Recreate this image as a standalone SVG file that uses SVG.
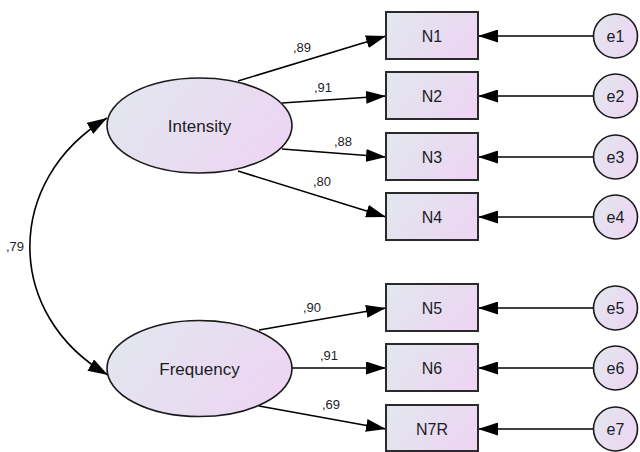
<svg xmlns="http://www.w3.org/2000/svg" width="640" height="452" viewBox="0 0 640 452">
<style>
.node{stroke:#1a1a1a;stroke-width:1.6;fill:url(#g)}
.box{stroke:#2a2a2a;stroke-width:2;fill:url(#g)}
.lbl{font-family:"Liberation Sans",Arial,sans-serif;fill:#1c1c26;text-anchor:middle}
.big{font-size:17px}
.mid{font-size:16px}
.err{font-size:16px}
.w{font-size:13px}
.c{stroke:#000;stroke-width:1.6;fill:none}
.a{marker-end:url(#ah)}
</style>
<defs>
<linearGradient id="g" x1="0" y1="0.3" x2="1" y2="0.7">
<stop offset="0" stop-color="#e2e6ee"/>
<stop offset="1" stop-color="#edd5f3"/>
</linearGradient>
<marker id="ah" markerUnits="userSpaceOnUse" viewBox="0 0 20 13" refX="20" refY="6.5" markerWidth="20" markerHeight="13" orient="auto-start-reverse">
<path d="M0,0 L20,6.5 L0,13 z" fill="#000"/>
</marker>
</defs>
<g id="connectors">
<path class="c a" d="M238,81 L386,36"/>
<path class="c a" d="M282,103 L386,96"/>
<path class="c a" d="M282,149 L386,157"/>
<path class="c a" d="M238,171 L386,217"/>
<path class="c a" d="M259,330 L386,308"/>
<path class="c a" d="M292,368 L386,368"/>
<path class="c a" d="M259,406 L386,429"/>
<path class="c a" d="M593,36 L478,36"/>
<path class="c a" d="M593,96 L478,96"/>
<path class="c a" d="M593,157 L478,157"/>
<path class="c a" d="M593,217 L478,217"/>
<path class="c a" d="M593,308 L478,308"/>
<path class="c a" d="M593,368 L478,368"/>
<path class="c a" d="M593,429 L478,429"/>
<path class="c a" d="M108,375 C4,315 4,180 107,118" marker-start="url(#ah)"/>
<text class="lbl w" x="302" y="52">,89</text>
<text class="lbl w" x="323" y="92">,91</text>
<text class="lbl w" x="343" y="146">,88</text>
<text class="lbl w" x="322" y="186">,80</text>
<text class="lbl w" x="312" y="312">,90</text>
<text class="lbl w" x="329" y="360">,91</text>
<text class="lbl w" x="331" y="409">,69</text>
<text class="lbl w" x="15" y="251">,79</text>
</g>
<g id="Intensity"><ellipse class="node" cx="199.5" cy="125.5" rx="92.5" ry="47.5"/><text class="lbl big" x="199.5" y="131.5">Intensity</text></g>
<g id="Frequency"><ellipse class="node" cx="199.5" cy="368.5" rx="92.5" ry="48"/><text class="lbl big" x="199.5" y="374.5">Frequency</text></g>
<g id="N1"><rect class="box" x="386" y="12" width="92" height="47"/><text class="lbl mid" x="432" y="41.5">N1</text></g>
<g id="N2"><rect class="box" x="386" y="72" width="92" height="47"/><text class="lbl mid" x="432" y="101.5">N2</text></g>
<g id="N3"><rect class="box" x="386" y="133" width="92" height="47"/><text class="lbl mid" x="432" y="162.5">N3</text></g>
<g id="N4"><rect class="box" x="386" y="193" width="92" height="47"/><text class="lbl mid" x="432" y="222.5">N4</text></g>
<g id="N5"><rect class="box" x="386" y="284" width="92" height="47"/><text class="lbl mid" x="432" y="313.5">N5</text></g>
<g id="N6"><rect class="box" x="386" y="344" width="92" height="47"/><text class="lbl mid" x="432" y="373.5">N6</text></g>
<g id="N7R"><rect class="box" x="386" y="405" width="92" height="46"/><text class="lbl mid" x="432" y="434.5">N7R</text></g>
<g id="e1"><circle class="node" cx="615.5" cy="36" r="22"/><text class="lbl err" x="615.5" y="41.5">e1</text></g>
<g id="e2"><circle class="node" cx="615.5" cy="96" r="22"/><text class="lbl err" x="615.5" y="101.5">e2</text></g>
<g id="e3"><circle class="node" cx="615.5" cy="157" r="22"/><text class="lbl err" x="615.5" y="162.5">e3</text></g>
<g id="e4"><circle class="node" cx="615.5" cy="217" r="22"/><text class="lbl err" x="615.5" y="222.5">e4</text></g>
<g id="e5"><circle class="node" cx="615.5" cy="308" r="22"/><text class="lbl err" x="615.5" y="313.5">e5</text></g>
<g id="e6"><circle class="node" cx="615.5" cy="368" r="22"/><text class="lbl err" x="615.5" y="373.5">e6</text></g>
<g id="e7"><circle class="node" cx="615.5" cy="429" r="22"/><text class="lbl err" x="615.5" y="434.5">e7</text></g>
</svg>
